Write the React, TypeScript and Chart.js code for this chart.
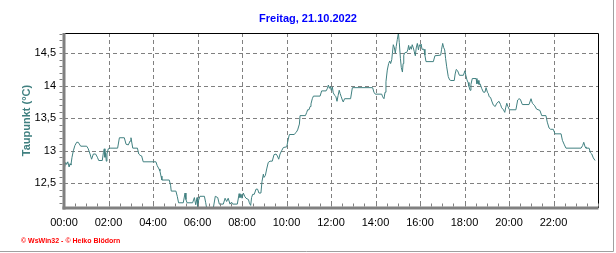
import React, { useEffect, useRef } from "react";
import { Chart, registerables } from "chart.js";

Chart.register(...registerables);

const TITLE = "Freitag, 21.10.2022";
const Y_TITLE = "Taupunkt (°C)";
const CREDIT = "© WsWin32 - © Heiko Blödorn";

const X_TICK_HOURS = [0, 2, 4, 6, 8, 10, 12, 14, 16, 18, 20, 22];
const Y_TICKS = [12.5, 13, 13.5, 14, 14.5];
const Y_MIN = 12.12;
const Y_MAX = 14.81;

// time of day in hours
const TIMES_H = [
  0.0, 0.08, 0.12, 0.17, 0.23, 0.27, 0.31, 0.36, 0.42, 0.49, 0.57, 0.64, 0.75, 1.02, 1.09, 1.17, 1.24, 1.32, 1.42, 1.5,
  1.56, 1.72, 1.77, 1.81, 1.84, 1.87, 1.9, 1.93, 1.99, 2.07, 2.41, 2.49, 2.71, 2.79, 2.89, 2.97, 3.01, 3.09, 3.3, 3.36,
  3.42, 3.49, 3.56, 4.13, 4.19, 4.27, 4.31, 4.36, 4.4, 4.73, 4.79, 4.82, 5.03, 5.09, 5.15, 5.36, 5.44, 5.48, 5.53, 5.78,
  5.86, 5.92, 5.98, 6.01, 6.05, 6.11, 6.31, 6.37, 6.41, 6.71, 6.8, 6.91, 6.98, 7.16, 7.24, 7.31, 7.38, 7.46, 7.53, 7.58,
  7.79, 7.87, 7.91, 7.96, 8.0, 8.06, 8.12, 8.18, 8.29, 8.33, 8.39, 8.43, 8.48, 8.55, 8.63, 8.7, 8.76, 8.85, 8.9, 8.96,
  8.99, 9.05, 9.11, 9.18, 9.26, 9.36, 9.44, 9.53, 9.59, 9.65, 9.71, 9.78, 9.86, 10.01, 10.08, 10.13, 10.34, 10.43, 10.5, 10.58,
  10.61, 10.85, 10.91, 10.95, 11.01, 11.06, 11.1, 11.16, 11.21, 11.51, 11.58, 11.78, 11.84, 11.88, 11.93, 11.97, 12.01, 12.06, 12.1, 12.17,
  12.22, 12.27, 12.32, 12.37, 12.41, 12.46, 12.51, 12.55, 12.61, 12.88, 12.96, 13.87, 13.93, 13.99, 14.28, 14.32, 14.38, 14.43, 14.47, 14.53,
  14.59, 14.64, 14.68, 14.73, 14.76, 14.8, 14.85, 14.89, 14.93, 14.98, 15.03, 15.07, 15.12, 15.16, 15.21, 15.24, 15.27, 15.33, 15.4, 15.45,
  15.49, 15.52, 15.57, 15.61, 15.65, 15.7, 15.74, 15.79, 15.83, 15.88, 15.93, 15.97, 16.01, 16.05, 16.09, 16.18, 16.22, 16.27, 16.6, 16.67,
  16.93, 16.97, 17.02, 17.06, 17.11, 17.15, 17.2, 17.27, 17.33, 17.39, 17.54, 17.58, 17.63, 17.69, 17.77, 17.95, 18.02, 18.06, 18.11, 18.16,
  18.2, 18.25, 18.29, 18.35, 18.52, 18.56, 18.61, 18.65, 18.7, 18.77, 18.85, 18.92, 18.97, 19.03, 19.07, 19.11, 19.17, 19.24, 19.3, 19.38,
  19.45, 19.55, 19.62, 19.67, 19.75, 19.81, 19.85, 19.9, 19.95, 20.02, 20.31, 20.39, 20.45, 20.51, 20.6, 20.9, 20.99, 21.05, 21.14, 21.24,
  21.39, 21.47, 21.66, 21.72, 21.8, 21.87, 21.99, 22.07, 22.34, 22.4, 22.49, 22.56, 23.24, 23.31, 23.36, 23.42, 23.46, 23.6, 23.66, 23.72,
  23.79, 23.87,
];

// dew point in °C
const DEW = [
  12.72, 12.82, 12.79, 12.83, 12.75, 12.8, 12.78, 12.9, 13.0, 13.08, 13.13, 13.13, 13.07, 13.07, 13.03, 12.95, 12.87, 12.95, 12.95, 12.9,
  12.85, 12.85, 12.97, 13.03, 12.9, 12.97, 12.84, 12.95, 13.03, 13.04, 13.04, 13.2, 13.2, 13.1, 13.09, 13.15, 13.2, 13.04, 13.04, 12.95,
  12.93, 12.92, 12.83, 12.83, 12.77, 12.72, 12.69, 12.61, 12.55, 12.55, 12.47, 12.38, 12.38, 12.3, 12.2, 12.2, 12.35, 12.25, 12.2, 12.2,
  12.28, 12.17, 12.28, 12.12, 12.24, 12.3, 12.3, 12.2, 12.12, 12.12, 12.3, 12.28, 12.18, 12.18, 12.27, 12.22, 12.27, 12.18, 12.21, 12.18,
  12.18, 12.34, 12.28, 12.33, 12.27, 12.35, 12.3, 12.27, 12.25, 12.2, 12.16, 12.28, 12.33, 12.33, 12.41, 12.41, 12.35, 12.35, 12.53, 12.64,
  12.59, 12.62, 12.72, 12.82, 12.84, 12.84, 12.94, 12.95, 12.92, 12.87, 12.95, 13.0, 13.05, 13.06, 13.18, 13.25, 13.25, 13.28, 13.32, 13.41,
  13.54, 13.54, 13.59, 13.63, 13.63, 13.68, 13.72, 13.8, 13.84, 13.84, 13.92, 13.92, 13.96, 14.01, 13.96, 13.99, 13.93, 13.98, 13.89, 13.85,
  13.83, 13.76, 13.85, 13.93, 13.88, 13.83, 13.78, 13.75, 13.8, 13.8, 13.97, 13.97, 13.9, 13.87, 13.87, 13.83, 13.8, 13.9, 14.06, 14.24,
  14.34, 14.38, 14.34, 14.4, 14.5, 14.63, 14.58, 14.5, 14.6, 14.71, 14.81, 14.66, 14.42, 14.28, 14.21, 14.34, 14.47, 14.51, 14.51, 14.55,
  14.62, 14.55, 14.6, 14.56, 14.63, 14.58, 14.53, 14.46, 14.58, 14.65, 14.55, 14.63, 14.6, 14.64, 14.56, 14.56, 14.47, 14.37, 14.37, 14.46,
  14.47, 14.56, 14.65, 14.59, 14.55, 14.42, 14.29, 14.14, 14.09, 14.08, 14.08, 14.18, 14.25, 14.23, 14.16, 14.16, 14.23, 14.16, 14.09, 14.05,
  13.99, 13.93, 14.02, 14.11, 14.11, 14.03, 14.08, 14.02, 14.03, 13.96, 13.9, 13.9, 13.97, 13.9, 13.88, 13.83, 13.82, 13.75, 13.7, 13.68,
  13.73, 13.76, 13.71, 13.66, 13.63, 13.59, 13.66, 13.73, 13.68, 13.63, 13.63, 13.78, 13.8, 13.79, 13.71, 13.71, 13.8, 13.73, 13.7, 13.64,
  13.62, 13.54, 13.54, 13.44, 13.35, 13.33, 13.33, 13.26, 13.26, 13.16, 13.09, 13.04, 13.04, 13.08, 13.13, 13.06, 13.04, 13.04, 12.97, 12.95,
  12.89, 12.85,
];

const FONT = '"Liberation Sans", Arial, sans-serif';
const LINE_COLOR = "#408080";
const AXIS_GRAY = "#808080";

const decor = {
  id: "decor",
  beforeDatasetsDraw(chart: any) {
    const { ctx, chartArea: a, scales } = chart;
    const x = scales.x;
    const y = scales.y;
    ctx.save();
    ctx.strokeStyle = AXIS_GRAY;
    ctx.lineWidth = 1;
    ctx.setLineDash([4, 3]);
    for (const h of X_TICK_HOURS) {
      if (h === 0) continue;
      const px = Math.round(x.getPixelForValue(h)) + 0.5;
      ctx.beginPath();
      ctx.moveTo(px, a.top);
      ctx.lineTo(px, a.bottom);
      ctx.stroke();
    }
    for (const v of Y_TICKS) {
      const py = Math.round(y.getPixelForValue(v)) + 0.5;
      ctx.beginPath();
      ctx.moveTo(a.left, py);
      ctx.lineTo(a.right, py);
      ctx.stroke();
    }
    ctx.restore();
  },
  afterDatasetsDraw(chart: any) {
    const { ctx, chartArea: a, scales, width, height } = chart;
    const x = scales.x;
    const y = scales.y;
    ctx.save();
    ctx.setLineDash([]);
    // top & right border
    ctx.strokeStyle = "#000000";
    ctx.lineWidth = 1;
    ctx.beginPath();
    ctx.moveTo(a.left, Math.round(a.top) + 0.5);
    ctx.lineTo(Math.round(a.right) + 0.5, Math.round(a.top) + 0.5);
    ctx.lineTo(Math.round(a.right) + 0.5, a.bottom);
    ctx.stroke();
    // axes (thick gray)
    ctx.fillStyle = AXIS_GRAY;
    ctx.fillRect(a.left - 1.5, a.top, 3, a.bottom - a.top + 1.5);
    ctx.fillRect(a.left - 1.5, a.bottom - 1.5, a.right - a.left + 2, 3);
    // ticks
    ctx.strokeStyle = AXIS_GRAY;
    ctx.lineWidth = 1;
    ctx.beginPath();
    for (let i = 0; i <= 48; i++) {
      const px = Math.round(x.getPixelForValue(i / 2)) + 0.5;
      ctx.moveTo(px, a.bottom - 1.5);
      ctx.lineTo(px, a.bottom - 4.5);
    }
    for (const h of X_TICK_HOURS) {
      if (h === 0) continue;
      const px = Math.round(x.getPixelForValue(h)) + 0.5;
      ctx.moveTo(px, a.top + 1);
      ctx.lineTo(px, a.top + 4);
    }
    for (let i = 122; i <= 148; i++) {
      const py = Math.round(y.getPixelForValue(i / 10)) + 0.5;
      ctx.moveTo(a.left - 1.5, py);
      ctx.lineTo(a.left - 4.5, py);
    }
    ctx.stroke();
    // title
    ctx.fillStyle = "#0000ff";
    ctx.font = `bold 11px ${FONT}`;
    ctx.textAlign = "center";
    ctx.textBaseline = "middle";
    ctx.fillText(TITLE, width / 2, 19);
    // credit
    ctx.fillStyle = "#ff0000";
    ctx.font = `bold 7px ${FONT}`;
    ctx.textAlign = "left";
    ctx.fillText(CREDIT, 21, 241);
    // outer frame
    ctx.strokeStyle = "#a0a0a0";
    ctx.beginPath();
    ctx.moveTo(width - 2.5, 0);
    ctx.lineTo(width - 2.5, height - 1.5);
    ctx.lineTo(0, height - 1.5);
    ctx.stroke();
    ctx.restore();
  },
};

export default function App() {
  const ref = useRef<HTMLCanvasElement | null>(null);
  useEffect(() => {
    if (!ref.current) return;
    const chart = new Chart(ref.current, {
      type: "line",
      data: {
        datasets: [
          {
            data: TIMES_H.map((t, i) => ({ x: t, y: DEW[i] })),
            borderColor: LINE_COLOR,
            borderWidth: 1,
            pointRadius: 0,
            tension: 0,
            fill: false,
          },
        ],
      },
      options: {
        animation: false,
        responsive: false,
        events: [],
        layout: { padding: { left: 0, right: 18, top: 33, bottom: 0 } },
        plugins: { legend: { display: false }, tooltip: { enabled: false }, title: { display: false } },
        scales: {
          x: {
            type: "linear",
            min: 0,
            max: 24,
            grid: { display: false, drawTicks: false },
            border: { display: false },
            afterBuildTicks: (s: any) => {
              s.ticks = X_TICK_HOURS.map((v) => ({ value: v }));
            },
            afterFit: (s: any) => {
              s.height = 45;
            },
            ticks: {
              autoSkip: false,
              maxRotation: 0,
              padding: 8,
              color: "#000000",
              font: { family: FONT, size: 11 },
              callback: (v: any) => String(v).padStart(2, "0") + ":00",
            },
          },
          y: {
            type: "linear",
            min: Y_MIN,
            max: Y_MAX,
            grid: { display: false, drawTicks: false },
            border: { display: false },
            afterBuildTicks: (s: any) => {
              s.ticks = Y_TICKS.map((v) => ({ value: v }));
            },
            afterFit: (s: any) => {
              s.width = 64;
            },
            title: {
              display: true,
              text: Y_TITLE,
              color: LINE_COLOR,
              font: { family: FONT, size: 11, weight: "bold" },
              padding: { top: 20, bottom: 0 },
            },
            ticks: {
              padding: 8,
              color: "#000000",
              font: { family: FONT, size: 11 },
              callback: (v: any) => String(v).replace(".", ","),
            },
          },
        },
      },
      plugins: [decor],
    });
    return () => chart.destroy();
  }, []);
  return (
    <div style={{ position: "absolute", left: 0, top: 0, width: 616, height: 253, background: "#ffffff" }}>
      <canvas ref={ref} width={616} height={253} style={{ display: "block", width: 616, height: 253 }} />
    </div>
  );
}
